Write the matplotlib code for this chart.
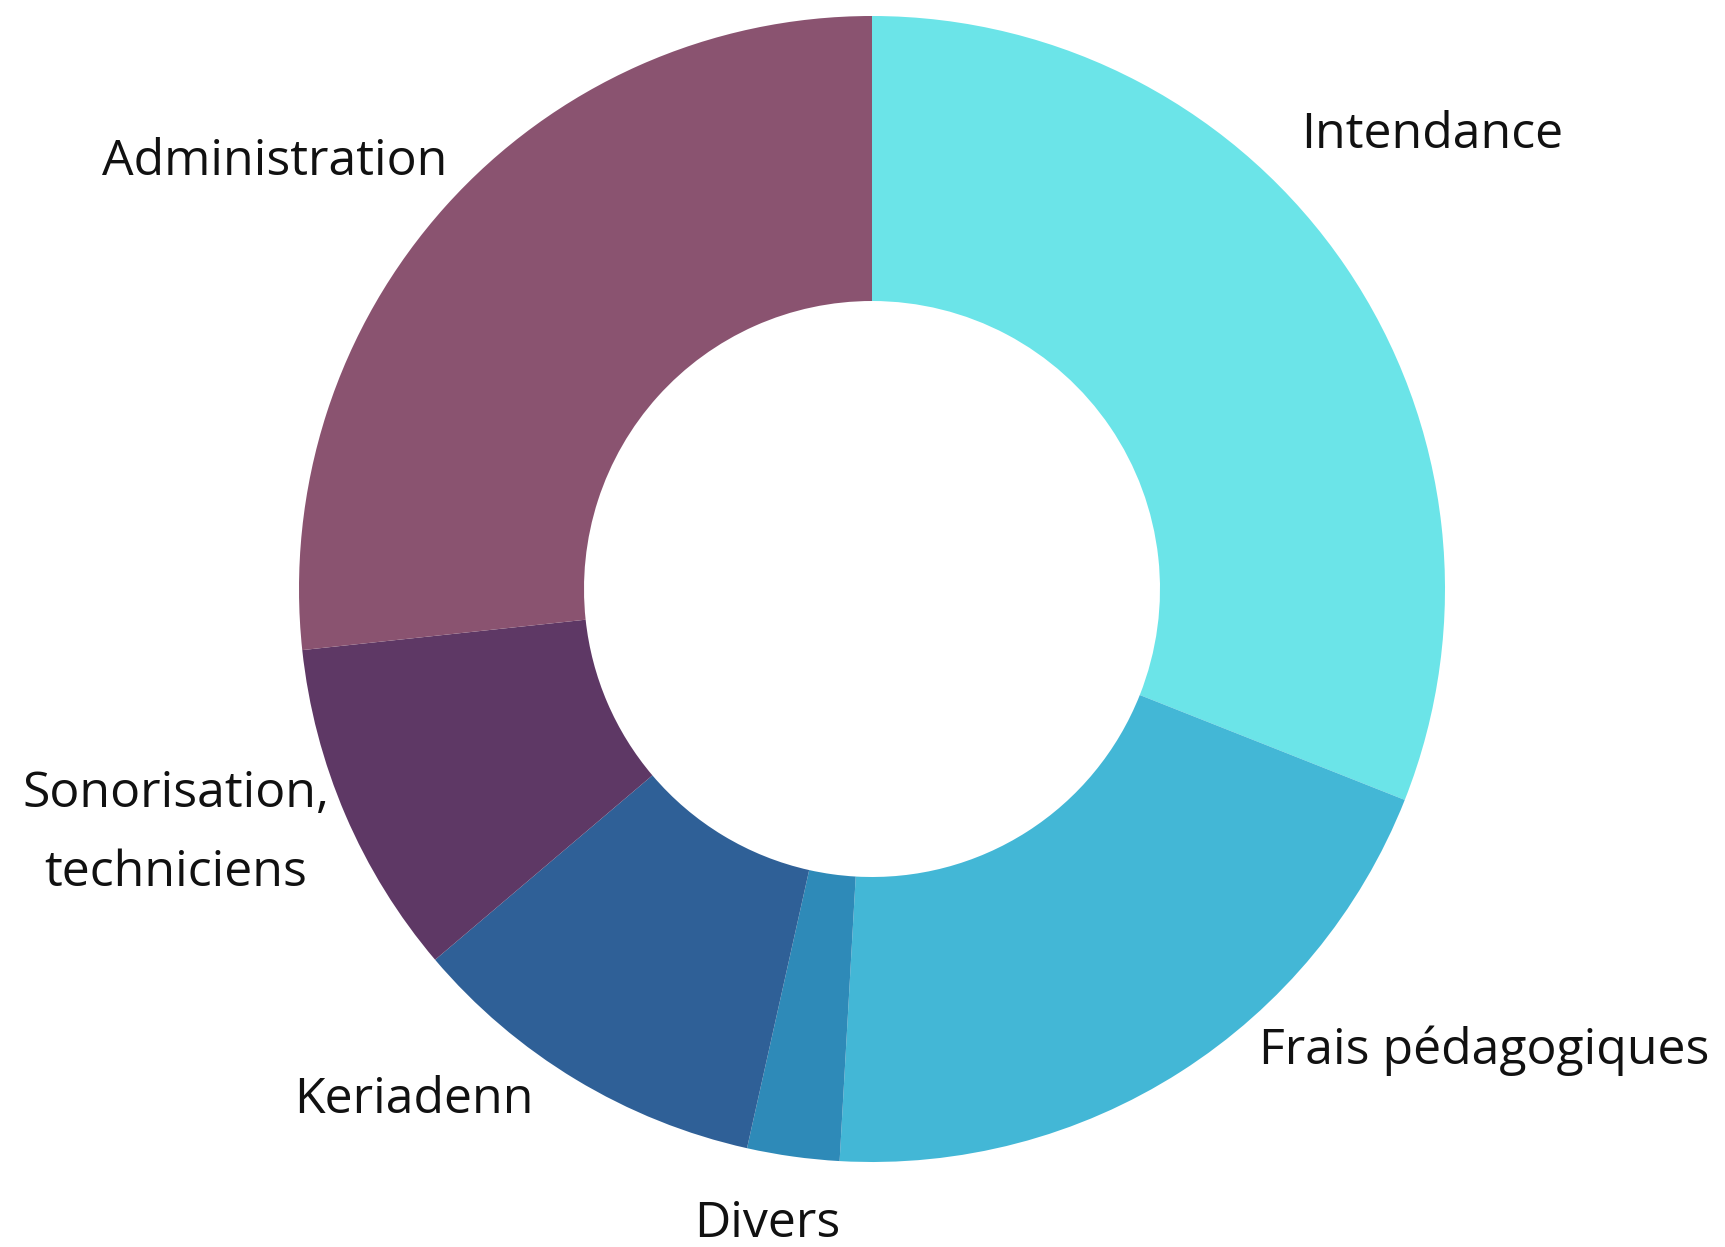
import matplotlib.pyplot as plt

# budget breakdown (share of total, %)
labels = ["Intendance", "Frais pédagogiques", "Divers", "Keriadenn",
          "Sonorisation,\ntechniciens", "Administration"]
shares = [31.0, 19.9, 2.6, 10.3, 9.5, 26.7]
colors = ["#6be4e8", "#43b7d6", "#2e8ab8", "#2f6097", "#5e3865", "#8a5370"]

# label anchor points in pixel space (x from left, y from bottom)
label_pos = [(1432, 1112), (1484, 196), (767, 23), (414, 147),
             (176, 413), (275, 1085)]

W, H = 1725, 1247
fig = plt.figure(figsize=(W / 100, H / 100), dpi=100)
ax = fig.add_axes([0, 0, 1, 1])

ax.pie(shares, colors=colors, startangle=90, counterclock=False,
       center=(872, 658), radius=573,
       wedgeprops=dict(width=573 - 288, linewidth=0), frame=True)
ax.set_xlim(0, W)
ax.set_ylim(0, H)
ax.axis("off")

for lab, (x, y) in zip(labels, label_pos):
    ax.text(x, y, lab, ha="center", va="center", fontsize=36,
            family="Open Sans", color="#111111", linespacing=1.8)

fig.savefig("out.png", dpi=100)
